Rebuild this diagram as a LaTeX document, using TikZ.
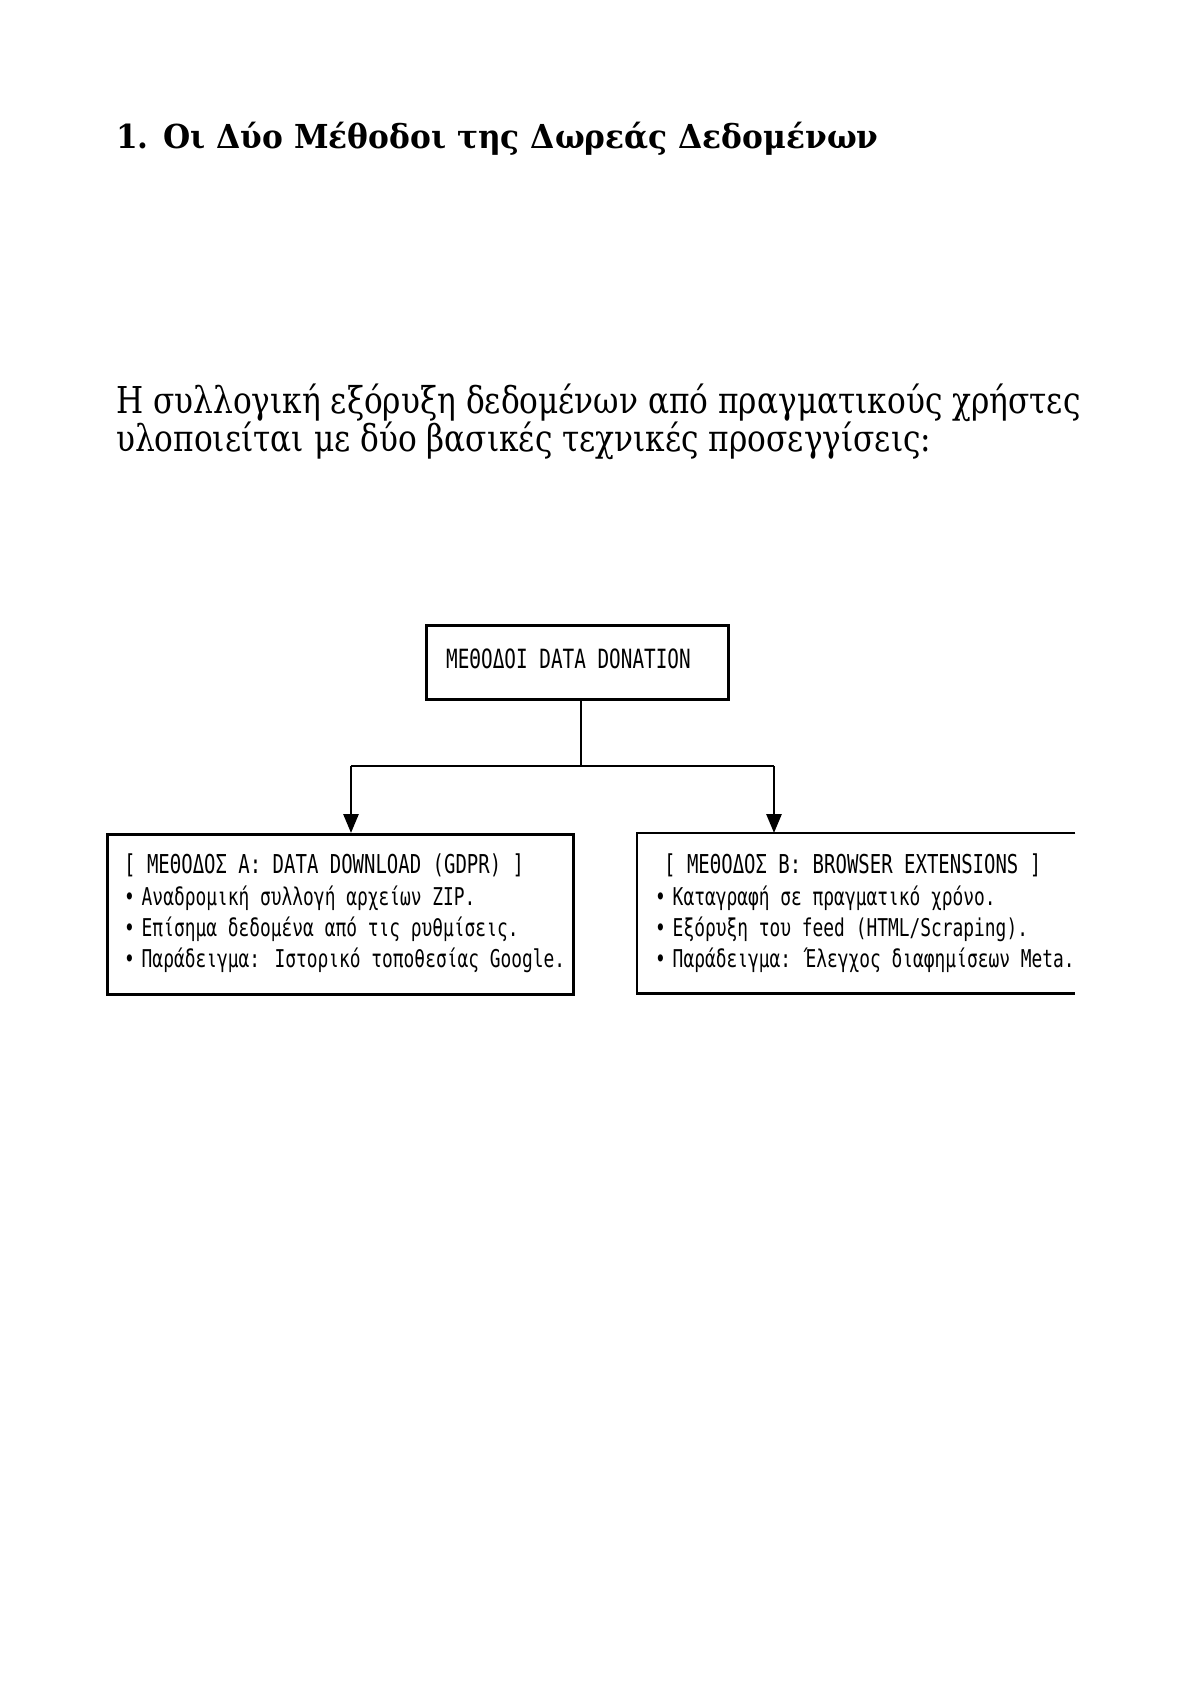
\documentclass[tikz,border=0pt]{standalone}
\usepackage{fontspec}
\setmainfont{DejaVu Serif}
\newfontfamily\titlefont{DejaVu Serif}[FakeStretch=0.947]
\newfontfamily\parafont{DejaVu Serif}[FakeStretch=0.843]
\newfontfamily\boxfont{DejaVu Sans Mono}[FakeStretch=0.73]
\usetikzlibrary{arrows.meta}
\tikzset{
  boxline/.style={line width=2.8pt, draw=black},
  boxarea/.style={boxline, rectangle, inner sep=0pt, anchor=north west},
  conn/.style={line width=2.8pt},
  arr/.style={conn, -{Triangle[width=15pt,length=19pt]}},
  btext/.style={anchor=base west, inner sep=0pt, font=\boxfont\fontsize{24.5}{30}\selectfont},
  bhead/.style={btext, font=\boxfont\fontsize{26}{30}\selectfont},
}
\newcommand{\bul}{•\kern-4pt\ }
\begin{document}
\begin{tikzpicture}[x=1pt,y=-1pt]
\useasboundingbox (0,0) rectangle (1190,1684);
\fill[white] (0,0) rectangle (1190,1684);

\node[anchor=base west, inner sep=0pt, font=\titlefont\bfseries\fontsize{33}{38}\selectfont] (title) at (116,148) {1. Οι Δύο Μέθοδοι της Δωρεάς Δεδομένων};

\node[anchor=base west, inner sep=0pt, font=\parafont\fontsize{37}{40}\selectfont] (p1) at (116,413) {Η συλλογική εξόρυξη δεδομένων από πραγματικούς χρήστες};
\node[anchor=base west, inner sep=0pt, font=\parafont\fontsize{37}{40}\selectfont] (p2) at (116,451) {υλοποιείται με δύο βασικές τεχνικές προσεγγίσεις:};

% top box
\node[boxarea, minimum width=302pt, minimum height=74pt] (top) at (425,624) {};
\node[btext, font=\boxfont\fontsize{26.5}{30}\selectfont] (toptext) at (446,668) {ΜΕΘΟΔΟΙ DATA DONATION};

% box A
\node[boxarea, minimum width=466pt, minimum height=160pt] (boxA) at (106,833) {};
\node[bhead] (a1) at (124,873) {[ ΜΕΘΟΔΟΣ Α: DATA DOWNLOAD (GDPR) ]};
\node[btext] (a2) at (124,905) {\bul Αναδρομική συλλογή αρχείων ZIP.};
\node[btext] (a3) at (124,936) {\bul Επίσημα δεδομένα από τις ρυθμίσεις.};
\node[btext] (a4) at (124,967) {\bul Παράδειγμα: Ιστορικό τοποθεσίας Google.};

% box B (open on the right)
\node[rectangle, inner sep=0pt, anchor=north west, minimum width=438pt, minimum height=160pt] (boxB) at (637,833) {};
\draw[boxline] (boxB.north east) -- (boxB.north west) -- (boxB.south west) -- (boxB.south east);
\node[bhead] (b1) at (664,873) {[ ΜΕΘΟΔΟΣ Β: BROWSER EXTENSIONS ]};
\node[btext] (b2) at (655,905) {\bul Καταγραφή σε πραγματικό χρόνο.};
\node[btext] (b3) at (655,936) {\bul Εξόρυξη του feed (HTML/Scraping).};
\node[btext] (b4) at (655,967) {\bul Παράδειγμα: Έλεγχος διαφημίσεων Meta.};

% connectors
\coordinate (j) at (581,766);
\coordinate (ta) at (351,766);
\coordinate (tb) at (774,766);
\draw[conn] (top.south -| j) -- (j);
\draw[conn] (ta) -- (tb);
\draw[arr] (ta) -- (ta |- boxA.north);
\draw[arr] (tb) -- (tb |- boxB.north);
\end{tikzpicture}
\end{document}
